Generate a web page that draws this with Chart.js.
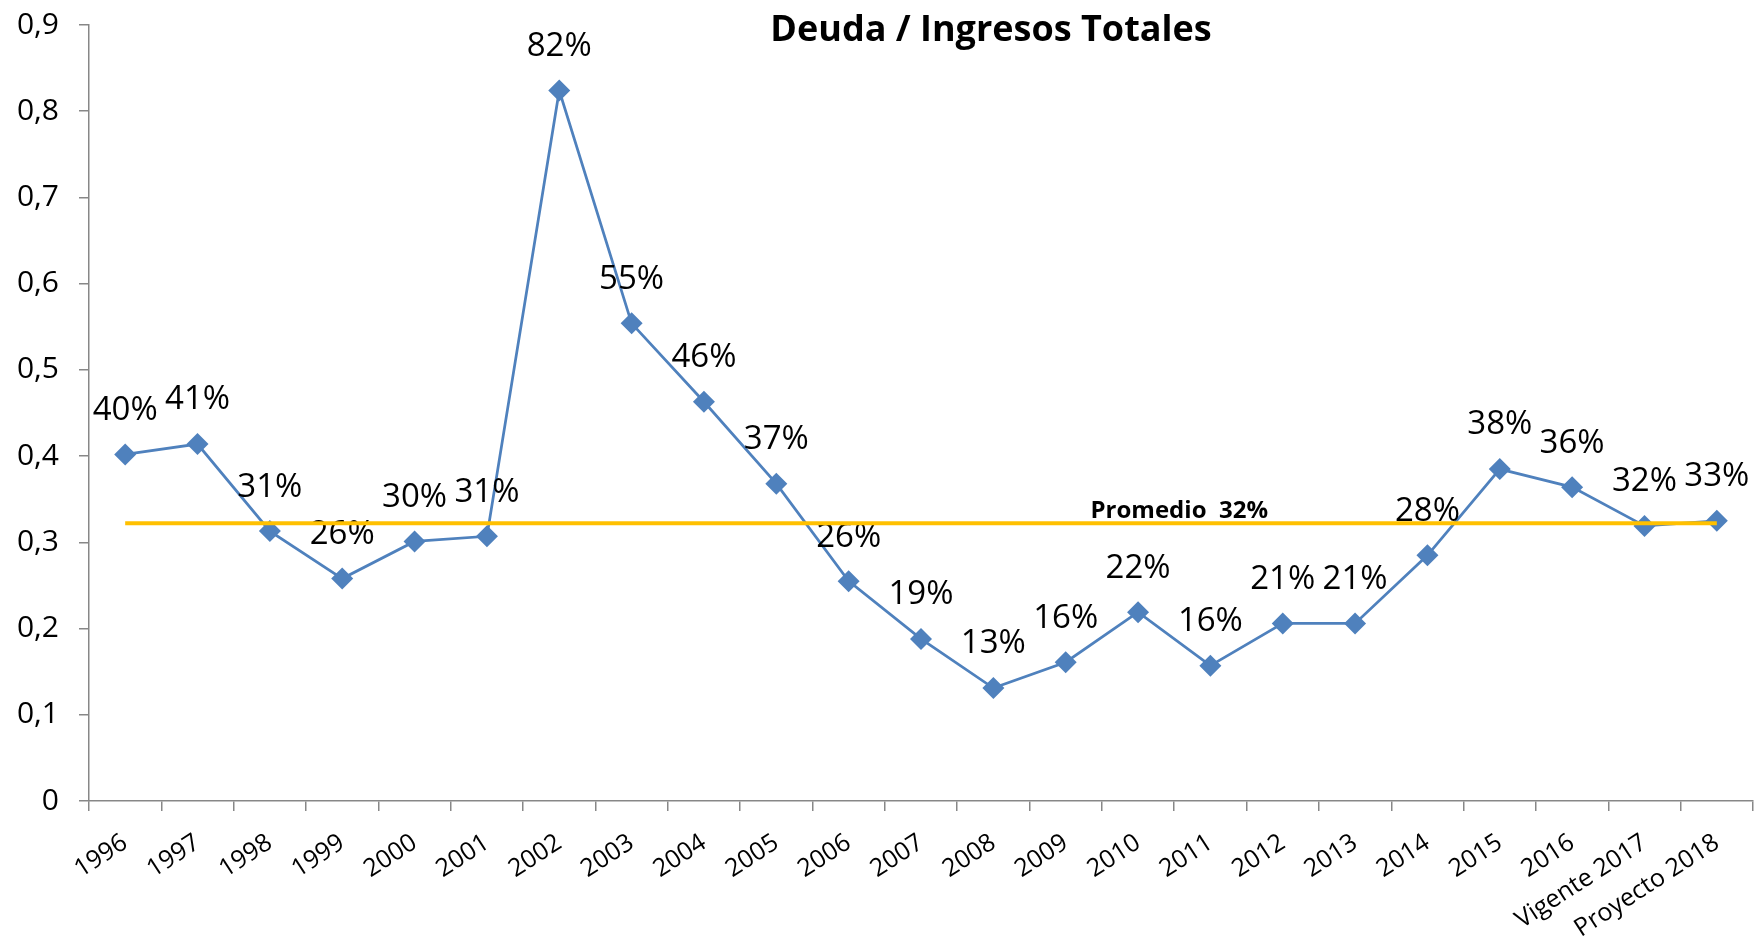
<!DOCTYPE html>
<html>
<head>
<meta charset="utf-8">
<script src="https://cdn.jsdelivr.net/npm/chart.js@4.4.0/dist/chart.umd.min.js"></script>
<style>
html,body{margin:0;padding:0;background:#fff;}
canvas{display:block;}
</style>
</head>
<body>
<canvas id="c" width="1754" height="941"></canvas>
<script>
const categories = ['1996','1997','1998','1999','2000','2001','2002','2003','2004','2005','2006','2007','2008','2009','2010','2011','2012','2013','2014','2015','2016','Vigente 2017','Proyecto 2018'];
const deudaIngresos = [0.402,0.414,0.313,0.258,0.301,0.307,0.824,0.554,0.463,0.368,0.255,0.188,0.131,0.161,0.219,0.157,0.206,0.206,0.285,0.385,0.364,0.319,0.325];
const valueLabels = ['40%','41%','31%','26%','30%','31%','82%','55%','46%','37%','26%','19%','13%','16%','22%','16%','21%','21%','28%','38%','36%','32%','33%'];
const promedio = [0.322,0.322,0.322,0.322,0.322,0.322,0.322,0.322,0.322,0.322,0.322,0.322,0.322,0.322,0.322,0.322,0.322,0.322,0.322,0.322,0.322,0.322,0.322];
const promedioLabel = 'Promedio  32%';
const yTickLabels = ['0','0,1','0,2','0,3','0,4','0,5','0,6','0,7','0,8','0,9'];
const titleText = 'Deuda / Ingresos Totales';

const FONT = '"Open Sans", "DejaVu Sans", sans-serif';
const AXIS_GREY = '#878787';

const overlayPlugin = {
  id: 'overlay',
  afterDatasetDraw(chart, args) {
    if (args.index !== 0) return;
    const ctx = chart.ctx;
    ctx.save();
    ctx.font = '33px ' + FONT;
    ctx.fillStyle = '#000';
    ctx.textAlign = 'center';
    ctx.textBaseline = 'middle';
    args.meta.data.forEach((pt, i) => {
      ctx.fillText(valueLabels[i], pt.x, pt.y - 44);
    });
    ctx.restore();
  },
  afterDatasetsDraw(chart) {
    const ctx = chart.ctx;
    const xs = chart.scales.x, ys = chart.scales.y;
    ctx.save();
    ctx.font = 'bold 24px ' + FONT;
    ctx.fillStyle = '#000';
    ctx.textAlign = 'center';
    ctx.textBaseline = 'alphabetic';
    ctx.fillText(promedioLabel, xs.getPixelForValue(14.57), ys.getPixelForValue(promedio[0]) - 5);
    ctx.font = 'bold 36px ' + FONT;
    ctx.fillText(titleText, 991, 41);
    ctx.restore();
  }
};

new Chart(document.getElementById('c').getContext('2d'), {
  type: 'line',
  data: {
    labels: categories,
    datasets: [
      {
        label: 'Deuda / Ingresos Totales',
        data: deudaIngresos,
        borderColor: '#4F81BD',
        backgroundColor: '#4F81BD',
        pointBackgroundColor: '#4F81BD',
        pointBorderColor: '#4F81BD',
        borderWidth: 2.75,
        pointStyle: 'rectRot',
        pointRadius: 11,
        pointBorderWidth: 0,
        tension: 0,
        order: 2
      },
      {
        label: 'Promedio',
        data: promedio,
        borderColor: '#FFC000',
        backgroundColor: '#FFC000',
        borderWidth: 4,
        pointRadius: 0,
        tension: 0,
        order: 1
      }
    ]
  },
  options: {
    responsive: false,
    animation: false,
    devicePixelRatio: 1,
    layout: { autoPadding: false, padding: { top: 25, right: 1, left: 0, bottom: 0 } },
    plugins: { legend: { display: false }, title: { display: false }, tooltip: { enabled: false } },
    scales: {
      x: {
        type: 'category',
        offset: true,
        grid: { offset: true, drawOnChartArea: false, drawTicks: true, tickLength: 10, color: AXIS_GREY, lineWidth: 1.5 },
        border: { display: true, color: AXIS_GREY, width: 1.5 },
        ticks: { autoSkip: false, minRotation: 33, maxRotation: 33, padding: 17, color: '#000', font: { family: FONT, size: 25 } },
        afterFit(s) { s.height = 140; s.paddingLeft = 0; s.paddingRight = 0; }
      },
      y: {
        min: 0, max: 0.9,
        ticks: { stepSize: 0.1, padding: 20, color: '#000', font: { family: FONT, size: 30 },
          callback: (v) => yTickLabels[Math.round(v * 10)] },
        grid: { drawOnChartArea: false, drawTicks: true, tickLength: 10, color: AXIS_GREY, lineWidth: 1.5 },
        border: { display: true, color: AXIS_GREY, width: 1.5 },
        afterFit(s) { s.width = 89; s.paddingTop = 0; s.paddingBottom = 0; }
      }
    }
  },
  plugins: [overlayPlugin]
});
</script>
</body>
</html>
